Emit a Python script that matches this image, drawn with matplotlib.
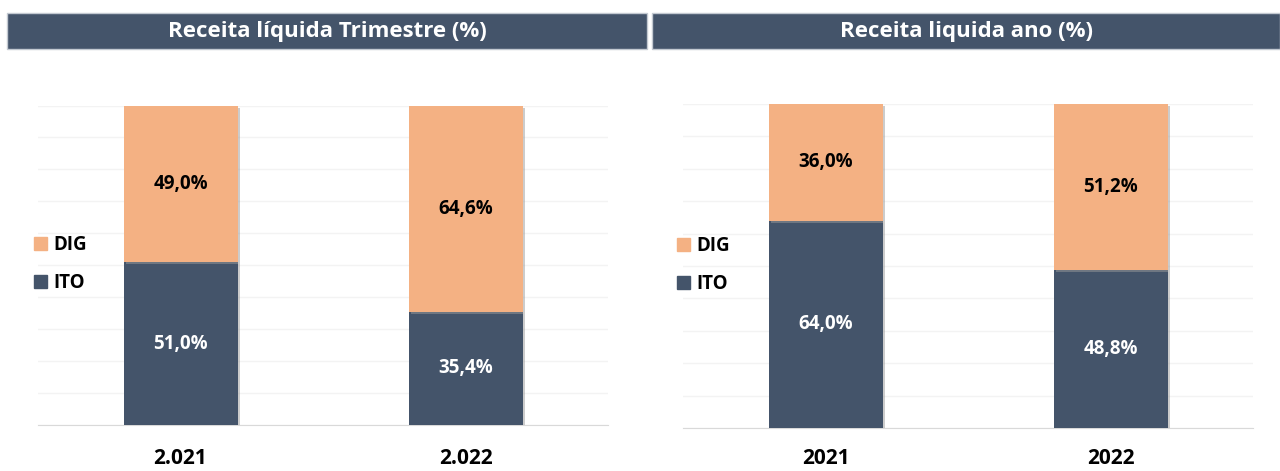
import matplotlib
matplotlib.use("Agg")
import matplotlib.pyplot as plt
from matplotlib.patches import Rectangle, Patch
import matplotlib.patheffects as pe

# ---- data ----
left_title = "Receita líquida Trimestre (%)"
right_title = "Receita liquida ano (%)"
left_categories = ["2.021", "2.022"]
right_categories = ["2021", "2022"]
series_names = ["ITO", "DIG"]
left_ito = [51.0, 35.4]
left_dig = [49.0, 64.6]
right_ito = [64.0, 48.8]
right_dig = [36.0, 51.2]

C_ITO = "#44546A"
C_DIG = "#F4B183"
FONT = ["Open Sans", "DejaVu Sans"]

plt.rcParams["font.family"] = FONT

fig = plt.figure(figsize=(12.8, 4.71), dpi=100)
W, H = 1280, 471

def fx(px):
    return px / W

def fy(py):
    return 1 - py / H

# title bars
for (x0, x1, title) in [(7, 647, left_title), (652, 1280, right_title)]:
    fig.patches.append(Rectangle((fx(x0), fy(49)), fx(x1 - x0), (49 - 13) / H,
                                 transform=fig.transFigure, facecolor=C_ITO,
                                 edgecolor="#C3C9D1", linewidth=1.0, zorder=0))
    fig.text(fx((x0 + x1) / 2), fy(32), title, ha="center", va="center",
             color="white", fontsize=16, fontweight="bold")

shadow = [pe.SimplePatchShadow(offset=(1.5, -1.5), shadow_rgbFace="#9a9a9a", alpha=0.5), pe.Normal()]

def panel(rect, cats, ito, dig, legend_pos, pad):
    ax = fig.add_axes(rect)
    x = list(range(len(cats)))
    b1 = ax.bar(x, ito, width=0.40, color=C_ITO, zorder=3, label=series_names[0])
    b2 = ax.bar(x, dig, width=0.40, bottom=ito, color=C_DIG, zorder=3, label=series_names[1])
    for b in list(b1) + list(b2):
        b.set_path_effects(shadow)
    for i in x:
        ax.text(i, ito[i] / 2, f"{ito[i]:.1f}%".replace(".", ","), ha="center", va="center",
                color="white", fontsize=13.5, fontweight="bold", zorder=4)
        ax.text(i, ito[i] + dig[i] / 2, f"{dig[i]:.1f}%".replace(".", ","), ha="center", va="center",
                color="black", fontsize=13.5, fontweight="bold", zorder=4)
    ax.set_xlim(-0.5, len(cats) - 0.5)
    ax.set_ylim(0, 100)
    ax.set_yticks(range(0, 101, 10))
    ax.yaxis.grid(True, color="#F3F3F3", linewidth=1.0, zorder=0)
    ax.set_axisbelow(True)
    ax.tick_params(axis="y", left=False, labelleft=False)
    ax.tick_params(axis="x", bottom=False, pad=pad)
    ax.set_xticks(x)
    ax.set_xticklabels(cats, fontsize=15, fontweight="bold")
    for s in ["top", "right", "left"]:
        ax.spines[s].set_visible(False)
    ax.spines["bottom"].set_color("#D9D9D9")
    handles = [Patch(color=C_DIG), Patch(color=C_ITO)]
    ax.legend(handles, [series_names[1], series_names[0]], loc="center left",
              bbox_to_anchor=legend_pos, bbox_transform=fig.transFigure, frameon=False,
              prop={"family": FONT, "weight": "bold", "size": 13.5},
              handlelength=0.7, handleheight=0.7, handletextpad=0.35, labelspacing=0.95,
              borderaxespad=0, borderpad=0)
    return ax

panel([fx(38), fy(425), fx(608 - 38), (425 - 105.5) / H], left_categories, left_ito, left_dig,
      (fx(34), fy(264)), 13)
panel([fx(683), fy(428), fx(1253 - 683), (428 - 104) / H], right_categories, right_ito, right_dig,
      (fx(677), fy(265)), 11)

fig.savefig("out.png", dpi=100, facecolor="white")
